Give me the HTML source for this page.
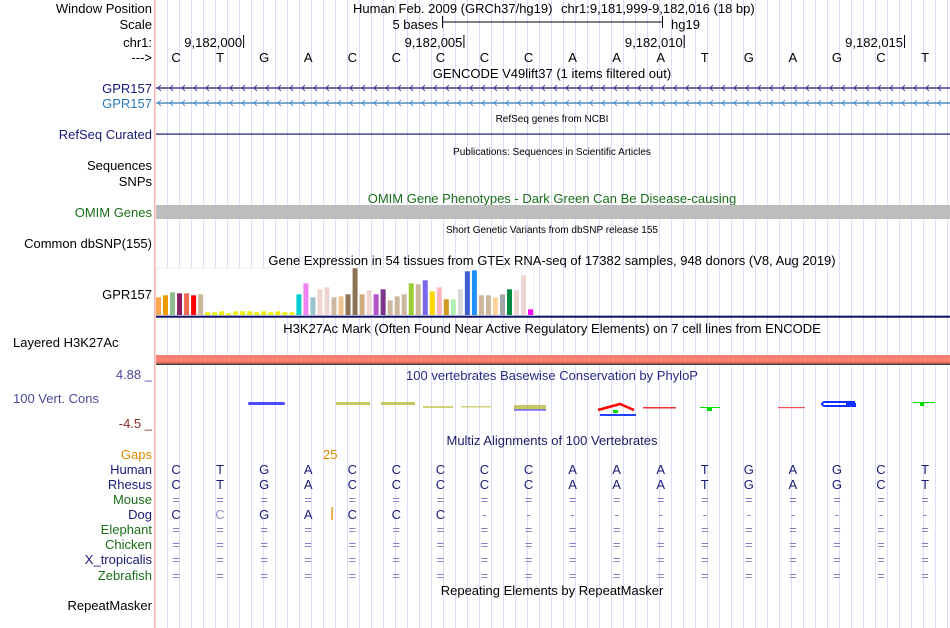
<!DOCTYPE html>
<html><head><meta charset="utf-8">
<style>
html,body{margin:0;padding:0;background:#fff;width:950px;height:628px;overflow:hidden}
svg{display:block;font-family:"Liberation Sans",sans-serif}
</style></head>
<body>
<svg id="browser" width="950" height="628" viewBox="0 0 950 628" xmlns="http://www.w3.org/2000/svg">
<g id="grid"></g>
<rect x="154" y="0" width="1.5" height="628" fill="#ffb4b4"/>

<g font-size="13" text-anchor="end">
<text x="152" y="13" fill="#000">Window Position</text>
<text x="152" y="29" fill="#000">Scale</text>
<text x="152" y="47" fill="#000">chr1:</text>
<text x="152" y="62" fill="#000">---&gt;</text>
<text x="152" y="93" fill="#1a1a7a">GPR157</text>
<text x="152" y="108" fill="#2a7ab8">GPR157</text>
<text x="152" y="139" fill="#1a1a7a">RefSeq Curated</text>
<text x="152" y="170" fill="#000">Sequences</text>
<text x="152" y="186" fill="#000">SNPs</text>
<text x="152" y="217" fill="#1a6e1a">OMIM Genes</text>
<text x="152" y="248" fill="#000">Common dbSNP(155)</text>
<text x="152" y="299" fill="#000">GPR157</text>
<text x="13" y="347" text-anchor="start" fill="#000">Layered H3K27Ac</text>
<text x="152" y="379" fill="#4a4a9a">4.88 _</text>
<text x="13" y="403" text-anchor="start" fill="#4a4a9a">100 Vert. Cons</text>
<text x="152" y="428" fill="#8a2a2a">-4.5 _</text>
<text x="152" y="459" fill="#e08a00">Gaps</text>
<text x="152" y="474" fill="#1a1a7a">Human</text>
<text x="152" y="489" fill="#1a1a7a">Rhesus</text>
<text x="152" y="504" fill="#1a6e1a">Mouse</text>
<text x="152" y="519" fill="#1a1a7a">Dog</text>
<text x="152" y="534" fill="#1a6e1a">Elephant</text>
<text x="152" y="549" fill="#1a6e1a">Chicken</text>
<text x="152" y="564" fill="#1a1a7a">X_tropicalis</text>
<text x="152" y="580" fill="#1a6e1a">Zebrafish</text>
<text x="152" y="610" fill="#000">RepeatMasker</text>
</g>

<g font-size="13" fill="#000">
<text x="353" y="13">Human Feb. 2009 (GRCh37/hg19)</text>
<text x="561" y="13">chr1:9,181,999-9,182,016 (18 bp)</text>
<text x="438" y="29" text-anchor="end">5 bases</text>
<line x1="442" y1="22" x2="662" y2="22" stroke="#000"/>
<line x1="442.5" y1="16" x2="442.5" y2="28" stroke="#000"/>
<line x1="662.5" y1="16" x2="662.5" y2="28" stroke="#000"/>
<text x="671" y="29">hg19</text>
<text x="552" y="78" text-anchor="middle">GENCODE V49lift37 (1 items filtered out)</text>
<text x="552" y="122" text-anchor="middle" font-size="10">RefSeq genes from NCBI</text>
<text x="552" y="155" text-anchor="middle" font-size="10">Publications: Sequences in Scientific Articles</text>
<text x="552" y="203" text-anchor="middle" fill="#1a6e1a">OMIM Gene Phenotypes - Dark Green Can Be Disease-causing</text>
<text x="552" y="233" text-anchor="middle" font-size="10">Short Genetic Variants from dbSNP release 155</text>
<text x="552" y="265" text-anchor="middle">Gene Expression in 54 tissues from GTEx RNA-seq of 17382 samples, 948 donors (V8, Aug 2019)</text>
<text x="552" y="333" text-anchor="middle">H3K27Ac Mark (Often Found Near Active Regulatory Elements) on 7 cell lines from ENCODE</text>
<text x="552" y="380" text-anchor="middle" fill="#2a2a8a">100 vertebrates Basewise Conservation by PhyloP</text>
<text x="552" y="445" text-anchor="middle" fill="#1a1a6a">Multiz Alignments of 100 Vertebrates</text>
<text x="552" y="595" text-anchor="middle">Repeating Elements by RepeatMasker</text>
</g>

<g id="ruler" font-size="13"></g>
<g id="bases" font-size="13"></g>
<g id="genes"></g>

<rect x="156" y="133.5" width="794" height="1.2" fill="#1a1a7a"/>
<rect x="156" y="205" width="794" height="14" fill="#bebebe"/>

<rect x="156" y="268" width="378" height="47" fill="#fff" stroke="#eee"/>
<g id="gtex"></g>
<rect x="156" y="315.7" width="794" height="2" fill="#0d0d6a"/>

<rect x="156" y="355" width="794" height="7" fill="#fa8072"/>
<rect x="156" y="361.7" width="794" height="1.7" fill="#f06a58"/>
<rect x="156" y="363.6" width="794" height="1.2" fill="#111"/>

<g id="phylop">
<rect x="248" y="402" width="37" height="3" rx="1.5" fill="#2020ff" opacity="0.8"/>
<rect x="336" y="402" width="34" height="3" fill="#b0b020" opacity="0.7"/>
<rect x="381" y="402" width="34" height="3" fill="#b0b020" opacity="0.7"/>
<rect x="423" y="406" width="30" height="2" fill="#c0c040" opacity="0.7"/>
<rect x="461" y="406" width="30" height="1.5" fill="#c0c040" opacity="0.7"/>
<rect x="514" y="405" width="32" height="5" fill="#b0b020" opacity="0.7"/>
<rect x="514" y="409" width="32" height="2" fill="#6060ff" opacity="0.7"/>
<path d="M598 410 L620 404 L634 410" stroke="#f00" stroke-width="2.5" fill="none"/>
<rect x="613" y="410" width="5" height="3" fill="#00e000"/>
<rect x="600" y="414" width="36" height="2" fill="#2040ff"/>
<rect x="643" y="407" width="33" height="1.5" fill="#f03030"/>
<rect x="700" y="407" width="20" height="1" fill="#00e000"/>
<rect x="707" y="407" width="5" height="4" fill="#00e000"/>
<rect x="778" y="407" width="27" height="1.2" fill="#f05050"/>
<path d="M855 402 H824 Q820 404 824 406 H855 V404 H846" stroke="#1030ff" stroke-width="2" fill="none"/>
<rect x="913" y="402" width="22" height="1" fill="#00e000"/>
<rect x="920" y="402" width="4" height="4" fill="#00e000"/>
</g>

<text x="323" y="459" font-size="13" fill="#e08a00">25</text>
<rect x="331.5" y="507" width="1.3" height="13" fill="#e08a00"/>
<g id="multiz" font-size="13"></g>
</svg>

<script>
const seqHuman = "CTGACCCCCAAATGAGCT";
const seqDog   = "CCGACCC-----------";
const rulerLabels = ["9,182,000","9,182,005","9,182,010","9,182,015"];
const rulerIdx = [1,6,11,16];
const gtexValues = [17.7,19.7,22.7,21.7,21.7,19.7,20.7,2.7,2.7,3.7,1.7,3.7,3.7,3.7,2.7,3.7,2.7,3.7,2.7,2.7,20.7,31.7,17.7,25.7,27.7,17.7,18.7,20.7,46.7,20.7,24.7,20.7,25.7,14.7,18.7,20.7,31.7,30.7,34.7,23.7,27.7,15.7,15.7,25.7,43.7,44.7,19.7,19.7,17.7,20.7,25.7,24.7,39.7,5.7];
const gtexColors = ["#FFA54F","#EE9A00","#8FBC8F","#8B1C62","#EE6A50","#FF0000","#CDB79E","#EEEE00","#EEEE00","#EEEE00","#EEEE00","#EEEE00","#EEEE00","#EEEE00","#EEEE00","#EEEE00","#EEEE00","#EEEE00","#EEEE00","#EEEE00","#00CDCD","#EE82EE","#9AC0CD","#EED5D2","#EED5D2","#CDB79E","#EEC591","#8B7355","#8B7355","#CDAA7D","#EED5D2","#B452CD","#7A378B","#CDB79E","#CDB79E","#CDB79E","#9ACD32","#CDB79E","#7A67EE","#FFD700","#FFB6C1","#CD9B1D","#B4EEB4","#D9D9D9","#3A5FCD","#1E90FF","#CDB79E","#CDB79E","#FFD39B","#A6A6A6","#008B45","#EED5D2","#EED5D2","#FF00FF"];
const gtexMax = 46.7;

const NS="http://www.w3.org/2000/svg";
const X0=156, BW=44.06;
const baseX = i => X0 + BW*i + BW/2;
const barX = i => 156 + i*7.02;
const barH = v => v/gtexMax*46.7;
const BASE_Y = 315;
function mk(tag, attrs, parent, txt){const e=document.createElementNS(NS,tag);for(const k in attrs)e.setAttribute(k,attrs[k]);if(txt!==undefined)e.textContent=txt;parent.appendChild(e);return e;}

const grid=document.getElementById('grid');
for(let x=167;x<950;x+=12){
  const l=mk('line',{x1:x+0.5,y1:0,x2:x+0.5,y2:628,stroke:'#dcdcf6','stroke-width':1},grid);
  
  
}

const ruler=document.getElementById('ruler');
rulerLabels.forEach((lab,k)=>{
  const xr = X0 + BW*(rulerIdx[k]+1);
  const t=mk('text',{x:xr-2,y:47,'text-anchor':'end'},ruler,lab);
  
  
  mk('line',{x1:xr-0.5,y1:35,x2:xr-0.5,y2:48,stroke:'#000'},ruler);
});

const bases=document.getElementById('bases');
for(let i=0;i<seqHuman.length;i++){
  const t=mk('text',{x:baseX(i)-2,y:62,'text-anchor':'middle'},bases,seqHuman[i]);
  
  
}

const genes=document.getElementById('genes');
[[88,'#1a1a7a'],[103,'#2a7ab8']].forEach(([y,c])=>{
  const l=mk('line',{x1:156,y1:y,x2:950,y2:y,stroke:c,'stroke-width':1.3},genes);
  
  
  let d='';
  for(let x=158;x<950;x+=12){d+=`M${x+3} ${y-3} L${x} ${y} L${x+3} ${y+3} `;}
  mk('path',{d:d,stroke:c,fill:'none','stroke-width':0.8},genes);
});

const gtex=document.getElementById('gtex');
gtexValues.forEach((v,i)=>{
  const h=barH(v);
  const r=mk('rect',{x:barX(i),y:BASE_Y-h,width:5,height:h,fill:gtexColors[i]},gtex);
  
  
});

const multiz=document.getElementById('multiz');
const rows=[[474,'human'],[489,'rhesus'],[504,'eq'],[519,'dog'],[534,'eq'],[549,'eq'],[564,'eq'],[580,'eq']];
rows.forEach(([y,kind])=>{
  for(let i=0;i<seqHuman.length;i++){
    let ch, fill='#1a1a7a';
    if(kind==='human'||kind==='rhesus'){ch=seqHuman[i];}
    else if(kind==='eq'){ch='=';fill='#8080c0';}
    else {ch=seqDog[i]; if(ch==='-'){fill='#8080c0';} else if(ch!==seqHuman[i]){fill='#9090c0';}}
    const t=mk('text',{x:baseX(i)-2,y:y,'text-anchor':'middle',fill:fill},multiz,ch);
    
    
  }
});
</script>
</body></html>
